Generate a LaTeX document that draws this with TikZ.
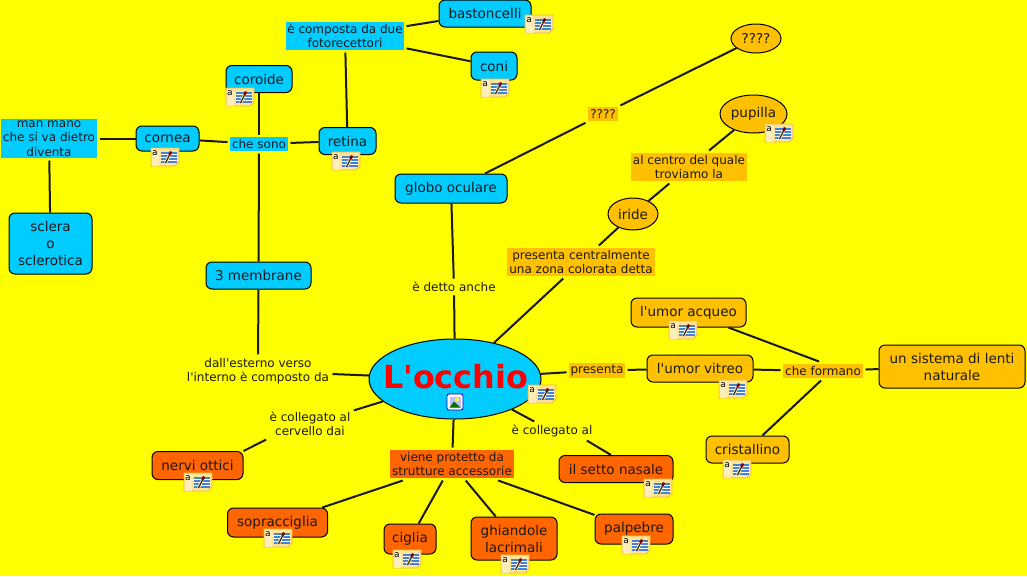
\documentclass[tikz,border=0pt]{standalone}
\usepackage{fontspec}
\setmainfont{DejaVu Sans}
\usepackage{xcolor}
\usetikzlibrary{shapes.geometric}
\definecolor{bg-color}{RGB}{255,255,0}
\definecolor{blue-color}{RGB}{0,204,255}
\definecolor{amber-color}{RGB}{255,192,0}
\definecolor{orange-color}{RGB}{255,102,0}
\definecolor{note-color}{RGB}{255,228,150}
\definecolor{noteleft-color}{RGB}{255,238,185}
\definecolor{noteedge-color}{RGB}{240,185,60}
\definecolor{lines-color}{RGB}{70,130,205}
\begin{document}
\begin{tikzpicture}[
    x=1pt, y=-1pt,
    % concept boxes and link labels
    box/.style={draw=black, fill=#1, line width=1pt, rounded corners=6pt, inner sep=0pt,
                align=center, font=\fontsize{13.5}{17}\selectfont, text=black!90},
    oval/.style={draw=black, fill=#1, ellipse, line width=1pt, inner sep=0pt,
                 font=\fontsize{13.5}{17}\selectfont, text=black!90},
    lbl/.style={fill=#1, inner sep=0pt, outer sep=2.5pt, align=center,
                font=\fontsize{12}{14.5}\selectfont, text=black!90},
    plain/.style={inner sep=1pt, outer sep=2.5pt, align=center,
                  font=\fontsize{12}{14.5}\selectfont, text=black!90},
    conn/.style={line width=2pt, black!90},
    noteicon/.pic={
        \draw[noteedge-color, fill=note-color, line width=0.8pt]
            (0,0) -- (28,0) -- (28,14) -- (24,18) -- (0,18) -- cycle;
        \fill[noteleft-color] (0.5,0.5) rectangle (8,17.5);
        \node[inner sep=0pt, font=\fontsize{9}{9}\selectfont, text=black] at (4,5) {a};
        \fill[white] (10,4) rectangle (26,15);
        \foreach \yy in {5,8,11,14} {
            \draw[lines-color, line width=1.1pt] (10,\yy) -- (26,\yy);
        }
        \draw[note-color, line width=3pt] (14.5,15) -- (18.5,7);
        \draw[black!80, line width=1.3pt] (14.5,15) -- (18.5,7);
        \draw[red!50!black, line width=2.4pt] (18.5,7) -- (20,3.5);
    },
    imageicon/.pic={
        \draw[blue!70!black, fill=white, rounded corners=2pt, line width=0.8pt] (0,0) rectangle (16,16);
        \fill[blue!25!white] (2.5,2.5) rectangle (13.5,13.5);
        \fill[yellow!70!white] (10,5.5) circle (2pt);
        \fill[green!45!black] (2.5,13.5) -- (7,7.5) -- (13.5,13.5) -- cycle;
    }
]

\useasboundingbox (0,0) rectangle (1027,576);
\fill[bg-color] (0,0) rectangle (1027,576);

% ===== CENTRE =====
\node[oval=blue-color, minimum width=172pt, minimum height=80pt] (occhio) at (455,379) {};
\node[inner sep=0pt, font=\fontsize{31.8}{31.8}\selectfont\bfseries, text=red] (titolo) at (455.5,377) {L\textquotesingle occhio};

% ===== BLUE BRANCH =====
\node[box=blue-color, minimum width=92pt, minimum height=27pt] (bast) at (485,13.5) {bastoncelli};
\node[box=blue-color, minimum width=46pt, minimum height=28pt] (coni) at (494,66) {coni};
\node[lbl=blue-color, minimum width=118pt, minimum height=28pt] (composta) at (345,36) {è composta da due\\fotorecettori};
\node[box=blue-color, minimum width=66pt, minimum height=27pt] (coroide) at (259,79) {coroide};
\node[box=blue-color, minimum width=63pt, minimum height=25pt] (cornea) at (167.5,138.5) {cornea};
\node[lbl=blue-color, minimum width=58pt, minimum height=14pt] (chesono) at (259,144) {che sono};
\node[box=blue-color, minimum width=57pt, minimum height=27pt] (retina) at (347.5,141) {retina};
\node[lbl=blue-color, minimum width=96pt, minimum height=39pt] (manmano) at (49,138.5) {man mano\\che si va dietro\\diventa};
\node[box=blue-color, minimum width=83pt, minimum height=61pt] (sclera) at (50.5,243.5) {sclera\\o\\sclerotica};
\node[box=blue-color, minimum width=105pt, minimum height=27pt] (membrane) at (258.5,275.5) {3 membrane};
\node[box=blue-color, minimum width=112pt, minimum height=29pt] (globo) at (451,188.5) {globo oculare};
\node[plain] (detto) at (454,287) {è detto anche};
\node[plain] (esterno) at (258,371) {dall\textquotesingle esterno verso\\l\textquotesingle interno è composto da};

% ===== AMBER BRANCH =====
\node[oval=amber-color, minimum width=50pt, minimum height=29pt] (ignoto) at (756,38.5) {????};
\node[lbl=amber-color, minimum width=30pt, minimum height=14pt] (ignotolbl) at (603,114) {????};
\node[oval=amber-color, minimum width=67pt, minimum height=38pt] (pupilla) at (753.5,114) {pupilla};
\node[lbl=amber-color, minimum width=116pt, minimum height=28pt] (centro) at (689,167) {al centro del quale\\troviamo la};
\node[oval=amber-color, minimum width=50pt, minimum height=32pt] (iride) at (633,214) {iride};
\node[lbl=amber-color, minimum width=148pt, minimum height=28pt] (centrale) at (581,262) {presenta centralmente\\una zona colorata detta};
\node[lbl=amber-color, minimum width=56pt, minimum height=15pt] (presenta) at (597,370.5) {presenta};
\node[box=amber-color, minimum width=115pt, minimum height=29pt] (acqueo) at (688.5,312.5) {l\textquotesingle umor acqueo};
\node[box=amber-color, minimum width=106pt, minimum height=27pt] (vitreo) at (700,368.5) {l\textquotesingle umor vitreo};
\node[lbl=amber-color, minimum width=80pt, minimum height=14pt] (formano) at (823,371) {che formano};
\node[box=amber-color, minimum width=146pt, minimum height=43pt] (lenti) at (952,366.5) {un sistema di lenti\\naturale};
\node[box=amber-color, minimum width=83pt, minimum height=27pt] (cristallino) at (747.5,449.5) {cristallino};

% ===== ORANGE BRANCH =====
\node[plain] (cervello) at (310,424) {è collegato al\\cervello dai};
\node[box=orange-color, minimum width=91pt, minimum height=28pt] (nervi) at (197.5,465.5) {nervi ottici};
\node[lbl=orange-color, minimum width=124pt, minimum height=28pt] (protetto) at (452,464) {viene protetto da\\strutture accessorie};
\node[plain] (nasale) at (552,431) {è collegato al};
\node[box=orange-color, minimum width=114pt, minimum height=27pt] (setto) at (616,469) {il setto nasale};
\node[box=orange-color, minimum width=100pt, minimum height=29pt] (sopra) at (277.5,522.5) {sopracciglia};
\node[box=orange-color, minimum width=52pt, minimum height=30pt] (ciglia) at (410,539) {ciglia};
\node[box=orange-color, minimum width=86pt, minimum height=43pt] (ghiandole) at (514,538.5) {ghiandole\\lacrimali};
\node[box=orange-color, minimum width=78pt, minimum height=30pt] (palpebre) at (634,529) {palpebre};

% ===== CONNECTORS =====
\foreach \aa/\bb in {composta/bast, composta/coni, composta/retina, chesono/coroide,
        chesono/cornea, chesono/retina, chesono/membrane, manmano/cornea, manmano/sclera,
        occhio/detto, detto/globo, ignotolbl/ignoto, occhio/centrale,
        centrale/iride, iride/centro, centro/pupilla, occhio/presenta, presenta/vitreo,
        vitreo/formano, formano/lenti, occhio/cervello, occhio/protetto, occhio/nasale,
        protetto/sopra, protetto/ciglia, protetto/ghiandole, protetto/palpebre,
        esterno/occhio, membrane/esterno} {
    \draw[conn] (\aa) -- (\bb);
}
\draw[conn] ([xshift=34pt]globo.north) -- (ignotolbl);
\draw[conn] (acqueo) -- ([xshift=-4pt]formano.north);
\draw[conn] (cristallino) -- ([xshift=-2pt]formano.south);
\draw[conn] (cervello.south west) -- (nervi.north east);
\draw[conn] ([xshift=-9pt]nasale.south east) -- ([xshift=-5pt]setto.north);

% ===== NOTE ICONS =====
\foreach \px/\py in {525/15, 481/79, 226/88, 151/148, 332/152, 528/385, 765/124, 669/321,
        719/380, 723/460, 184/473, 644/479, 264/529, 393/550, 501/555, 622/536} {
    \pic at (\px,\py) {noteicon};
}
\pic at (447,394) {imageicon};

\end{tikzpicture}
\end{document}
